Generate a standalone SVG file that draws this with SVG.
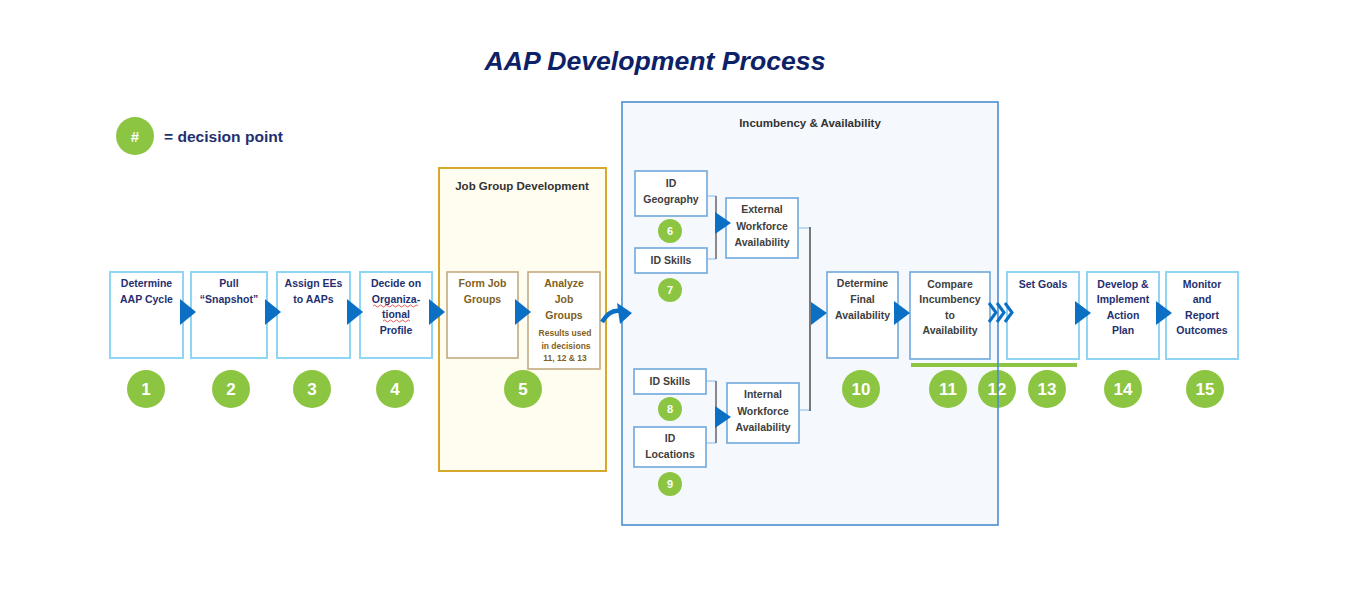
<svg xmlns="http://www.w3.org/2000/svg" width="1371" height="595" viewBox="0 0 1371 595">
<defs>
<style>
text{font-family:"Liberation Sans",Arial,sans-serif;font-weight:bold;}
.t{font-size:10.5px;text-anchor:middle;}
.nv{fill:#1f3070;}
.gr{fill:#404040;}
.ol{fill:#7f5f1e;}
.bx1{fill:#fff;stroke:#8fd6f5;stroke-width:2;}
.bx2{fill:#fff;stroke:#6fa8dc;stroke-width:1.6;}
.bx3{fill:#fff;stroke:#c2ab80;stroke-width:1.6;}
.arr{fill:#0b6fc4;}
.c{fill:#8cc541;}
.n{fill:#fff;font-size:17px;text-anchor:middle;}
.ns{fill:#fff;font-size:11px;text-anchor:middle;}
.lb{stroke:#8ab8e6;stroke-width:1.2;fill:none;}
.gy{stroke:#8a8a8a;stroke-width:2;fill:none;}
</style>
</defs>
<rect width="1371" height="595" fill="#fff"/>
<text x="655" y="70" font-size="26.5" font-style="italic" fill="#0d2167" text-anchor="middle" textLength="341" lengthAdjust="spacingAndGlyphs">AAP Development Process</text>

<g id="legend">
<circle cx="135" cy="136" r="19" class="c"/>
<text x="135" y="142" fill="#fff" font-size="15" text-anchor="middle">#</text>
<text x="164" y="142" font-size="14" fill="#1f3070" textLength="119" lengthAdjust="spacingAndGlyphs">= decision point</text>
</g>

<g id="job-group-development">
<rect x="439" y="168" width="167" height="303" fill="#fffcf0" stroke="#d6a92e" stroke-width="2"/>
<text x="522" y="190" font-size="11.5" fill="#333" text-anchor="middle">Job Group Development</text>
</g>

<g id="incumbency-availability">
<rect x="622" y="102" width="376" height="423" fill="#f5f8fd"/>
<text x="810" y="127" font-size="11.5" fill="#333" text-anchor="middle">Incumbency &amp; Availability</text>
</g>

<g id="n1"><rect x="110" y="272" width="73" height="86" class="bx1"/>
<text class="t nv" x="146.5" y="287">Determine</text><text class="t nv" x="146.5" y="303">AAP Cycle</text></g>
<g id="n2"><rect x="191" y="272" width="76" height="86" class="bx1"/>
<text class="t nv" x="229" y="287">Pull</text><text class="t nv" x="229" y="303">“Snapshot”</text></g>
<g id="n3"><rect x="277" y="272" width="73" height="86" class="bx1"/>
<text class="t nv" x="313.5" y="287">Assign EEs</text><text class="t nv" x="313.5" y="303">to AAPs</text></g>
<g id="n4"><rect x="360" y="272" width="72" height="86" class="bx1"/>
<text class="t nv" x="396" y="287">Decide on</text><text class="t nv" x="396" y="303">Organiza-</text><text class="t nv" x="396" y="318">tional</text><text class="t nv" x="396" y="334">Profile</text>
<path d="M373 306 q1.5 -2 3 0 t3 0 t3 0 t3 0 t3 0 t3 0 t3 0 t3 0 t3 0 t3 0 t3 0 t3 0 t3 0 t3 0 t3 0" fill="none" stroke="#e03030" stroke-width="0.8"/>
<path d="M383 321 q1.5 -2 3 0 t3 0 t3 0 t3 0 t3 0 t3 0 t3 0 t3 0 t3 0" fill="none" stroke="#e03030" stroke-width="0.8"/></g>
<g id="n5a"><rect x="447" y="272" width="71" height="86" class="bx3"/>
<text class="t ol" x="482.5" y="287">Form Job</text><text class="t ol" x="482.5" y="303">Groups</text></g>
<g id="n5b"><rect x="528" y="272" width="72" height="97" class="bx3"/>
<text class="t ol" x="564" y="287">Analyze</text><text class="t ol" x="564" y="303">Job</text><text class="t ol" x="564" y="319">Groups</text>
<text class="ol" x="565" y="336" font-size="8.5" text-anchor="middle">Results used</text>
<text class="ol" x="566" y="349" font-size="8.5" text-anchor="middle">in decisions</text>
<text class="ol" x="565" y="361" font-size="8.5" text-anchor="middle">11, 12 &amp; 13</text></g>

<g id="n6"><rect x="635" y="171" width="72" height="45" class="bx2"/>
<text class="t gr" x="671" y="187">ID</text><text class="t gr" x="671" y="203">Geography</text></g>
<g id="n7"><rect x="635" y="248" width="72" height="25" class="bx2"/>
<text class="t gr" x="671" y="264">ID Skills</text></g>
<g id="ext"><rect x="726" y="198" width="72" height="60" class="bx2"/>
<text class="t gr" x="762" y="213">External</text><text class="t gr" x="762" y="230">Workforce</text><text class="t gr" x="762" y="246">Availability</text></g>
<g id="n8"><rect x="634" y="369" width="72" height="25" class="bx2"/>
<text class="t gr" x="670" y="385">ID Skills</text></g>
<g id="n9"><rect x="634" y="427" width="72" height="40" class="bx2"/>
<text class="t gr" x="670" y="442">ID</text><text class="t gr" x="670" y="458">Locations</text></g>
<g id="int"><rect x="727" y="383" width="72" height="60" class="bx2"/>
<text class="t gr" x="763" y="398">Internal</text><text class="t gr" x="763" y="415">Workforce</text><text class="t gr" x="763" y="431">Availability</text></g>
<g id="n10"><rect x="827" y="272" width="71" height="86" class="bx2"/>
<text class="t gr" x="862.5" y="287">Determine</text><text class="t gr" x="862.5" y="303">Final</text><text class="t gr" x="862.5" y="319">Availability</text></g>
<g id="n11"><rect x="910" y="272" width="80" height="87" class="bx2"/>
<text class="t gr" x="950" y="288">Compare</text><text class="t gr" x="950" y="303">Incumbency</text><text class="t gr" x="950" y="319">to</text><text class="t gr" x="950" y="334">Availability</text></g>
<g id="n13"><rect x="1007" y="272" width="72" height="87" class="bx1"/>
<text class="t nv" x="1043" y="288">Set Goals</text></g>
<g id="n14"><rect x="1087" y="272" width="72" height="87" class="bx1"/>
<text class="t nv" x="1123" y="288">Develop &amp;</text><text class="t nv" x="1123" y="303">Implement</text><text class="t nv" x="1123" y="319">Action</text><text class="t nv" x="1123" y="334">Plan</text></g>
<g id="n15"><rect x="1166" y="272" width="72" height="87" class="bx1"/>
<text class="t nv" x="1202" y="288">Monitor</text><text class="t nv" x="1202" y="303">and</text><text class="t nv" x="1202" y="319">Report</text><text class="t nv" x="1202" y="334">Outcomes</text></g>

<g id="decision-points">
<rect x="911" y="363" width="166" height="4" fill="#8cc541"/>
<circle cx="146" cy="389" r="19" class="c"/><text class="n" x="146" y="395">1</text>
<circle cx="231" cy="389" r="19" class="c"/><text class="n" x="231" y="395">2</text>
<circle cx="312" cy="389" r="19" class="c"/><text class="n" x="312" y="395">3</text>
<circle cx="395" cy="389" r="19" class="c"/><text class="n" x="395" y="395">4</text>
<circle cx="523" cy="389" r="19" class="c"/><text class="n" x="523" y="395">5</text>
<circle cx="670" cy="231" r="12" class="c"/><text class="ns" x="670" y="235">6</text>
<circle cx="670" cy="290" r="12" class="c"/><text class="ns" x="670" y="294">7</text>
<circle cx="670" cy="409" r="12" class="c"/><text class="ns" x="670" y="413">8</text>
<circle cx="670" cy="484" r="12" class="c"/><text class="ns" x="670" y="488">9</text>
<circle cx="861" cy="389" r="19" class="c"/><text class="n" x="861" y="395">10</text>
<circle cx="948" cy="389" r="19" class="c"/><text class="n" x="948" y="395">11</text>
<circle cx="997" cy="389" r="19" class="c"/><text class="n" x="997" y="395">12</text>
<circle cx="1047" cy="389" r="19" class="c"/><text class="n" x="1047" y="395">13</text>
<circle cx="1123" cy="389" r="19" class="c"/><text class="n" x="1123" y="395">14</text>
<circle cx="1205" cy="389" r="19" class="c"/><text class="n" x="1205" y="395">15</text>
</g>

<rect x="622" y="102" width="376" height="423" fill="none" stroke="#4a8ed0" stroke-width="1.6"/>

<g id="connectors">
<polygon class="arr" points="180,299 180,325 196,312"/>
<polygon class="arr" points="265,299 265,325 281,312"/>
<polygon class="arr" points="347,299 347,325 363,312"/>
<polygon class="arr" points="429,299 429,325 445,312"/>
<polygon class="arr" points="515,299 515,325 531,312"/>
<path d="M602 322 Q610 309 620 311" fill="none" stroke="#0b6fc4" stroke-width="4.5"/>
<polygon class="arr" points="617,303 632,313 620,324"/>
<path class="lb" d="M707 196 H716 M707 259 H716"/>
<path class="gy" d="M716 196 V259"/>
<polygon class="arr" points="715,212 715,234 731,223"/>
<path class="lb" d="M706 381 H716 M706 443 H716"/>
<path class="gy" d="M716 381 V443"/>
<polygon class="arr" points="715,406 715,428 731,417"/>
<path class="lb" d="M798 228 H810 M799 410 H810"/>
<path d="M810 227 V411" stroke="#333" stroke-width="1.3" fill="none"/>
<polygon class="arr" points="811,302 811,325 827,313"/>
<polygon class="arr" points="894,301 894,325 910,313"/>
<polyline points="989,303 996,312.5 989,322" fill="none" stroke="#0b6fc4" stroke-width="3"/>
<polyline points="997,303 1004,312.5 997,322" fill="none" stroke="#0b6fc4" stroke-width="3"/>
<polyline points="1005,303 1012,312.5 1005,322" fill="none" stroke="#0b6fc4" stroke-width="3"/>
<polygon class="arr" points="1075,301 1075,325 1091,313"/>
<polygon class="arr" points="1156,301 1156,325 1172,313"/>
</g>
</svg>
